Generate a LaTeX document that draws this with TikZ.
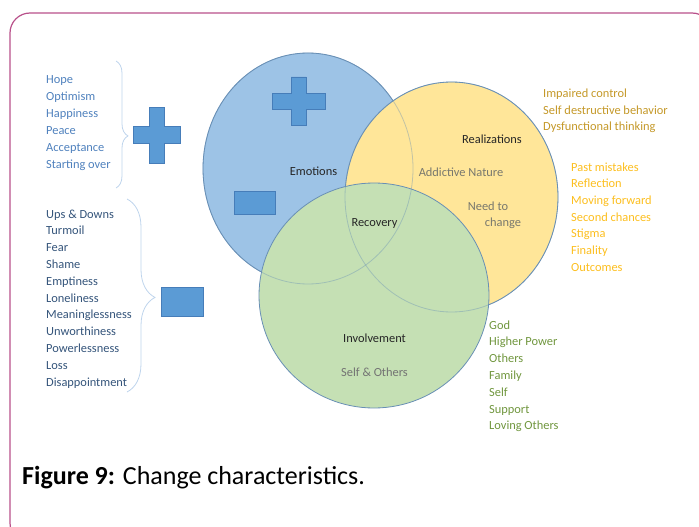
\documentclass[tikz,border=0pt]{standalone}
\usepackage{fontspec}
\setmainfont{Carlito}
\usetikzlibrary{shapes.geometric, decorations.pathreplacing}

\definecolor{emoblue}{RGB}{157,195,230}
\definecolor{realyellow}{RGB}{255,230,153}
\definecolor{involgreen}{RGB}{197,224,180}
\definecolor{ringline}{RGB}{104,143,181}
\definecolor{signblue}{RGB}{91,155,213}
\definecolor{signedge}{RGB}{70,125,185}
\definecolor{posblue}{RGB}{79,129,189}
\definecolor{negblue}{RGB}{52,84,122}
\definecolor{bracecol}{RGB}{190,212,236}
\definecolor{darkgold}{RGB}{196,152,40}
\definecolor{lightgold}{RGB}{252,190,30}
\definecolor{listgreen}{RGB}{112,150,62}
\definecolor{labelgray}{RGB}{120,120,110}
\definecolor{framepink}{RGB}{184,80,138}

\begin{document}
\begin{tikzpicture}[x=1pt, y=-1pt,
    % Styles
    ring/.style={ellipse, draw=ringline, line width=0.8pt, inner sep=0pt},
    ringfaint/.style={ellipse, draw=ringline, draw opacity=0.4, line width=0.8pt, inner sep=0pt},
    sign/.style={fill=signblue, draw=signedge, line width=0.5pt},
    item/.style={anchor=base west, inner sep=0pt, font=\fontsize{12.4}{14}\selectfont},
    ringlabel/.style={anchor=base, inner sep=0pt, font=\fontsize{12.4}{14}\selectfont, text=black!85},
    curly/.style={draw=bracecol, line width=0.8pt, decorate, decoration={brace, amplitude=#1}}
]
\useasboundingbox (0,0) rectangle (699,527);

% Frame
\draw[framepink, line width=1.2pt, rounded corners=20pt] (10,13) rectangle (712,543);

% Circles
\node[ring, fill=emoblue, minimum width=210pt, minimum height=231pt] (emotions) at (308,168.5) {};
\node[ring, fill=realyellow, minimum width=213pt, minimum height=230pt] (realizations) at (451.5,197) {};
\node[ring, fill=involgreen, minimum width=230pt, minimum height=225pt] (involvement) at (374,295.5) {};
\node[ringfaint, minimum width=210pt, minimum height=231pt] (emoedge) at (emotions.center) {};
\node[ringfaint, minimum width=213pt, minimum height=230pt] (realedge) at (realizations.center) {};

% Signs
\draw[sign] (149,107) -- ++(15,0) -- ++(0,19) -- ++(16,0) -- ++(0,17) -- ++(-16,0) -- ++(0,20)
    -- ++(-15,0) -- ++(0,-20) -- ++(-16,0) -- ++(0,-17) -- ++(16,0) -- cycle;
\draw[sign] (291,77) -- ++(15,0) -- ++(0,16) -- ++(19,0) -- ++(0,16) -- ++(-19,0) -- ++(0,16)
    -- ++(-15,0) -- ++(0,-16) -- ++(-19,0) -- ++(0,-16) -- ++(19,0) -- cycle;
\draw[sign] (234,191) rectangle (275,214);
\draw[sign] (161,287) rectangle (203,316);

% Braces
\draw[curly=12pt, decoration={aspect=0.59}] (116,61) -- (116,188);
\draw[curly=28pt, decoration={aspect=0.51}] (127,199) -- (127,392);

% Circle labels
\node[ringlabel] (emolabel) at (313.5,175) {Emotions};
\node[ringlabel] (reclabel) at (374.5,226) {Recovery};
\node[ringlabel] (reallabel) at (492,143) {Realizations};
\node[ringlabel, text=labelgray] (addlabel) at (461,176) {Addictive Nature};
\node[ringlabel, text=labelgray] (needlabel) at (488,210) {Need to};
\node[ringlabel, text=labelgray] (changelabel) at (503,226) {change};
\node[ringlabel] (invlabel) at (374.5,342) {Involvement};
\node[ringlabel, text=black!55] (selflabel) at (374.5,376) {Self \& Others};

% Left lists
\foreach \word [count=\i from 0] in {Hope, Optimism, Happiness, Peace, Acceptance, Starting over}
    \node[item, text=posblue] (pos\i) at (46, 84+16.8*\i) {\word};
\foreach \word [count=\i from 0] in {Ups \& Downs, Turmoil, Fear, Shame, Emptiness, Loneliness,
    Meaninglessness, Unworthiness, Powerlessness, Loss, Disappointment}
    \node[item, text=negblue] (neg\i) at (46, 218+16.8*\i) {\word};

% Right lists
\foreach \word [count=\i from 0] in {Impaired control, Self destructive behavior, Dysfunctional thinking}
    \node[item, text=darkgold] (cause\i) at (543, 97.5+16.7*\i) {\word};
\foreach \word [count=\i from 0] in {Past mistakes, Reflection, Moving forward, Second chances, Stigma, Finality, Outcomes}
    \node[item, text=lightgold] (look\i) at (571, 171+16.7*\i) {\word};
\foreach \word [count=\i from 0] in {God, Higher Power, Others, Family, Self, Support, Loving Others}
    \node[item, text=listgreen] (help\i) at (489, 329+16.8*\i) {\word};

% Caption
\node[anchor=base west, inner sep=0pt, font=\fontsize{26}{30}\selectfont] (caption) at (22,484)
    {\textbf{Figure 9:} Change characteristics.};

\end{tikzpicture}
\end{document}
